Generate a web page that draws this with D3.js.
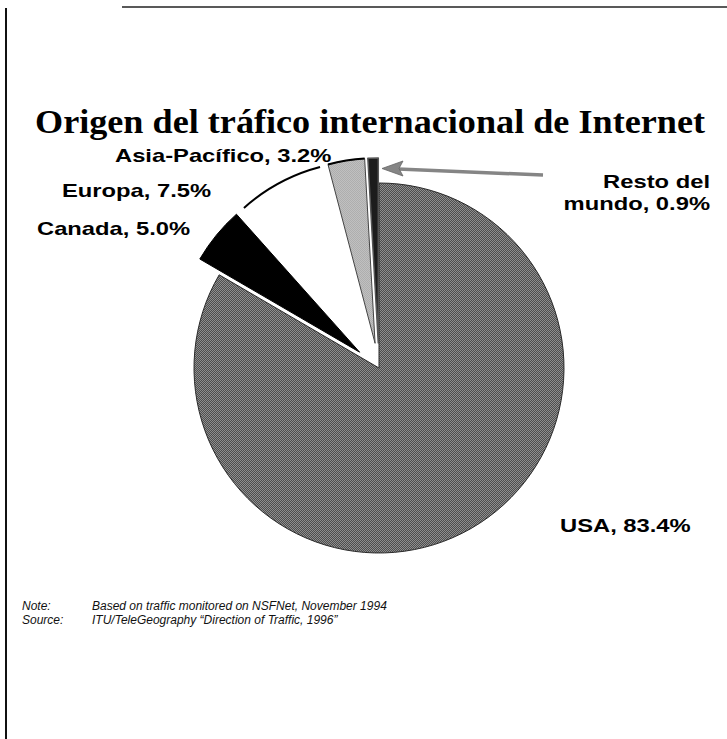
<!DOCTYPE html>
<html>
<head>
<meta charset="utf-8">
<script src="https://cdn.jsdelivr.net/npm/d3@7"></script>
<style>
  html, body { margin: 0; padding: 0; background: #fff; }
  svg { display: block; }
</style>
</head>
<body>
<div id="chart"></div>
<script>
// datos del gráfico
const categories = ['USA', 'Canada', 'Europa', 'Asia-Pacífico', 'Resto del mundo']
const shares = [83.4, 5.0, 7.5, 3.2, 0.9]
const labelLines = [['USA, 83.4%'], ['Canada, 5.0%'], ['Europa, 7.5%'], ['Asia-Pacífico, 3.2%'], ['Resto del', 'mundo, 0.9%']]
const noteLabels = ['Note:', 'Source:']
const noteTexts = ['Based on traffic monitored on NSFNet, November 1994', 'ITU/TeleGeography “Direction of Traffic, 1996”']

const width = 727
const height = 739
const cx = 379
const cy = 368
const radius = 185
const explode = 25

// estilo de cada porción
const fills = ['url(#patUSA)', '#000', '#fff', 'url(#patAsia)', '#1c1c1c']
const strokes = ['#2a2a2a', '#000', '#000', '#444', '#555']

// posición de las etiquetas
const labelPos = [
  { x: 560, y: 532, anchor: 'start' },
  { x: 37, y: 235, anchor: 'start' },
  { x: 62, y: 197, anchor: 'start' },
  { x: 115, y: 162, anchor: 'start' },
  { x: 710, y: 188, anchor: 'end' }
]

const svg = d3.select('#chart').append('svg')
  .attr('width', width)
  .attr('height', height)

const defs = svg.append('defs')
const makePattern = (id, dark, light) => {
  const p = defs.append('pattern')
    .attr('id', id)
    .attr('width', 2)
    .attr('height', 2)
    .attr('patternUnits', 'userSpaceOnUse')
  p.append('rect').attr('width', 2).attr('height', 2).attr('fill', light)
  p.append('rect').attr('width', 1).attr('height', 1).attr('fill', dark)
  p.append('rect').attr('x', 1).attr('y', 1).attr('width', 1).attr('height', 1).attr('fill', dark)
}
makePattern('patUSA', '#4e4e4e', '#8e8e8e')
makePattern('patAsia', '#9c9c9c', '#d2d2d2')

// marco escaneado
svg.append('line')
  .attr('x1', 122).attr('y1', 7).attr('x2', width).attr('y2', 7)
  .attr('stroke', '#222').attr('stroke-width', 1.5)
svg.append('line')
  .attr('x1', 6).attr('y1', 8).attr('x2', 6).attr('y2', height)
  .attr('stroke', '#111').attr('stroke-width', 2)

// título
svg.append('text')
  .attr('x', 35)
  .attr('y', 133)
  .attr('textLength', 670)
  .attr('lengthAdjust', 'spacingAndGlyphs')
  .style('font-family', '"Liberation Serif", "Times New Roman", serif')
  .style('font-weight', 'bold')
  .style('font-size', '33px')
  .attr('fill', '#000')
  .text('Origen del tráfico internacional de Internet')

// tarta
const data = categories.map((c, i) => ({ name: c, value: shares[i], i }))
const pie = d3.pie().sort(null).value(d => d.value)
const arcs = pie(data)
const arc = d3.arc().innerRadius(0).outerRadius(radius)
const outerArc = d3.arc().innerRadius(radius).outerRadius(radius)

const offset = d => {
  if (d.index === 0) return [0, 0]
  const mid = (d.startAngle + d.endAngle) / 2
  return [explode * Math.sin(mid), -explode * Math.cos(mid)]
}

const pieG = svg.append('g').attr('transform', `translate(${cx},${cy})`)
const sliceG = pieG.selectAll('g.slice')
  .data(arcs)
  .enter()
  .append('g')
  .attr('class', 'slice')
  .attr('transform', d => `translate(${offset(d)[0]},${offset(d)[1]})`)

sliceG.append('path')
  .attr('d', arc)
  .attr('fill', d => fills[d.index])
  .attr('stroke', d => d.index === 2 ? 'none' : strokes[d.index])
  .attr('stroke-width', d => d.index === 4 ? 1.5 : 1)
  .attr('stroke-linejoin', 'round')

// contorno del arco de Europa y Asia
sliceG.filter(d => d.index === 2 || d.index === 3)
  .append('path')
  .attr('d', outerArc)
  .attr('fill', 'none')
  .attr('stroke', '#000')
  .attr('stroke-width', 2)

// flecha hacia "Resto del mundo"
const arrowG = svg.append('g')
arrowG.append('line')
  .attr('x1', 543).attr('y1', 175).attr('x2', 398).attr('y2', 169)
  .attr('stroke', '#858585').attr('stroke-width', 3.5)
arrowG.append('path')
  .attr('d', 'M382,168.5L403,161L399,168.5L403,176Z')
  .attr('fill', '#858585')
  .attr('stroke', '#666')
  .attr('stroke-width', 0.8)

// etiquetas
const labelG = svg.append('g')
  .style('font-family', '"Liberation Sans", Arial, sans-serif')
  .style('font-weight', 'bold')
  .style('font-size', '19px')
  .attr('fill', '#000')

labelLines.forEach((lines, i) => {
  const pos = labelPos[i]
  const g = labelG.append('g')
    .attr('transform', `translate(${pos.x},${pos.y}) scale(1.25,1)`)
  g.selectAll('text')
    .data(lines)
    .enter()
    .append('text')
    .attr('x', 0)
    .attr('y', (d, j) => j * 22)
    .attr('text-anchor', pos.anchor)
    .text(d => d)
})

// notas al pie
const noteG = svg.append('g')
  .style('font-family', '"Liberation Sans", Arial, sans-serif')
  .style('font-style', 'italic')
  .style('font-size', '12px')
  .attr('fill', '#111')

noteLabels.forEach((t, i) => {
  noteG.append('text').attr('x', 22).attr('y', 610 + i * 14).text(t)
  noteG.append('text').attr('x', 92).attr('y', 610 + i * 14).text(noteTexts[i])
})
</script>
</body>
</html>
